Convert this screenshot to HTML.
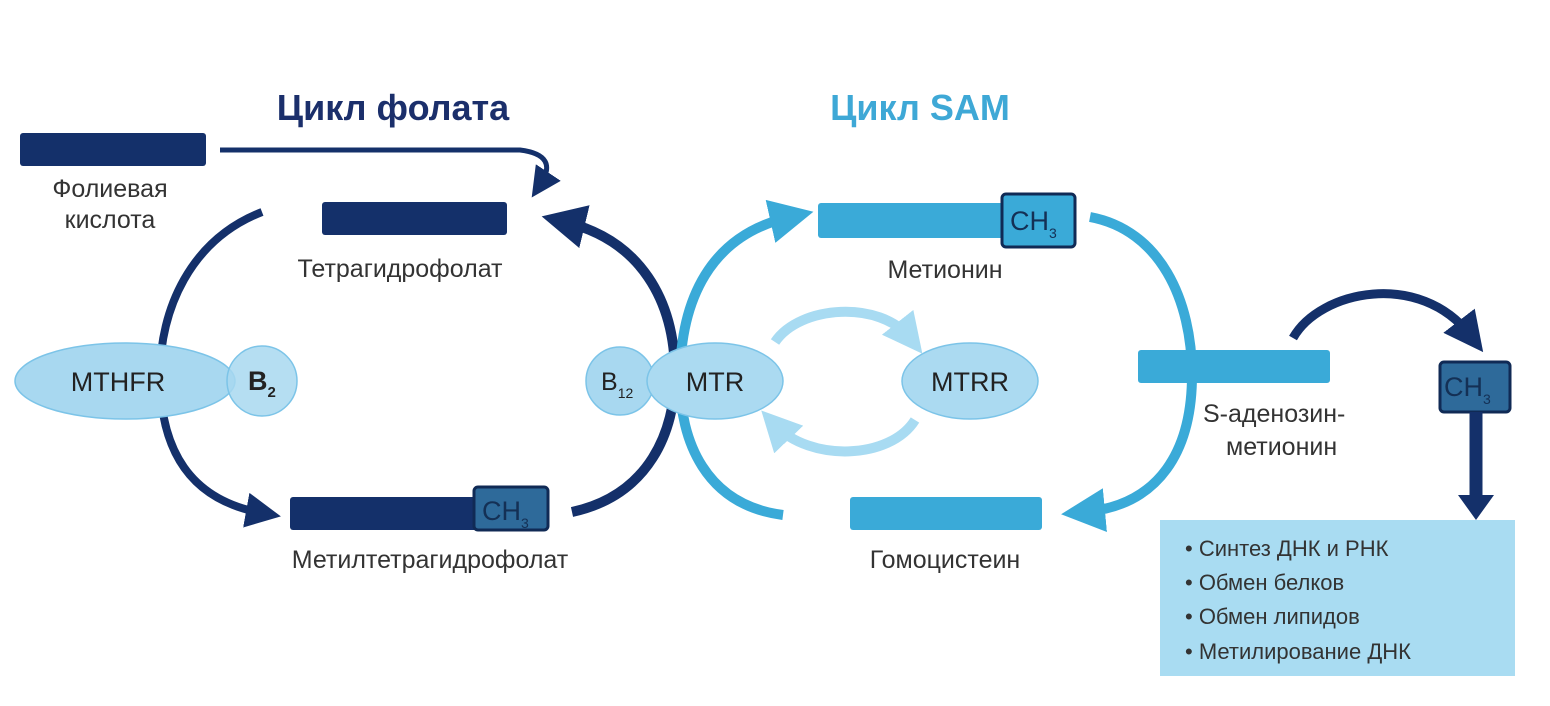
<!DOCTYPE html>
<html><head><meta charset="utf-8"><style>
html,body{margin:0;padding:0;background:#fff;}
svg{display:block;}
text{font-family:"Liberation Sans",sans-serif;}
</style></head><body>
<svg width="1550" height="706" viewBox="0 0 1550 706" xmlns="http://www.w3.org/2000/svg">
<defs>
<marker id="ad" markerWidth="4.4" markerHeight="4.4" refX="2" refY="2.2" orient="auto" markerUnits="strokeWidth"><path d="M0,0 L4.4,2.2 L0,4.4 z" fill="#14306a"/></marker>
<marker id="al" markerWidth="4.4" markerHeight="4.4" refX="2" refY="2.2" orient="auto" markerUnits="strokeWidth"><path d="M0,0 L4.4,2.2 L0,4.4 z" fill="#3aaad8"/></marker>
<marker id="ap" markerWidth="4" markerHeight="4" refX="2" refY="2" orient="auto" markerUnits="strokeWidth"><path d="M0,0 L4,2 L0,4 z" fill="#a8dbf2"/></marker>
<marker id="as" markerWidth="6" markerHeight="6" refX="3" refY="3" orient="auto" markerUnits="strokeWidth"><path d="M0,0 L6,3 L0,6 z" fill="#14306a"/></marker>
</defs>
<text x="393" y="120" font-size="36" fill="#1b2f6b" text-anchor="middle" font-weight="bold">Цикл фолата</text>
<text x="920" y="120" font-size="36" fill="#3ea8d6" text-anchor="middle" font-weight="bold">Цикл SAM</text>

<rect x="20" y="133" width="186" height="33" rx="3" fill="#14306a"/>
<path d="M220 150 L520 150 Q560 155 540 185" stroke="#14306a" stroke-width="5" fill="none" marker-end="url(#as)"/>
<text x="110" y="197" font-size="25" fill="#333" text-anchor="middle">Фолиевая</text>
<text x="110" y="228" font-size="25" fill="#333" text-anchor="middle">кислота</text>

<rect x="322" y="202" width="185" height="33" rx="3" fill="#14306a"/>
<text x="400" y="277" font-size="25" fill="#333" text-anchor="middle">Тетрагидрофолат</text>

<path d="M262 212 C190 240 160 310 160 375 C160 450 190 500 262 513" stroke="#14306a" stroke-width="8" fill="none" marker-end="url(#ad)"/>
<path d="M572 512 C650 495 675 430 675 375 C675 300 640 240 565 222" stroke="#14306a" stroke-width="10" fill="none" marker-end="url(#ad)"/>

<path d="M783 515 C705 505 680 440 680 380 C680 300 710 235 790 217" stroke="#3aaad8" stroke-width="10" fill="none" marker-end="url(#al)"/>
<path d="M1090 217 C1160 230 1192 300 1192 375 C1192 450 1160 505 1085 512" stroke="#3aaad8" stroke-width="10" fill="none" marker-end="url(#al)"/>

<ellipse cx="125" cy="381" rx="110" ry="38" fill="#a8d8f0" stroke="#7cc4e8" stroke-width="1.5"/>
<circle cx="262" cy="381" r="35" fill="#a8d8f0" stroke="#7cc4e8" stroke-width="1.5" fill-opacity="0.85"/>
<text x="118" y="391" font-size="27" fill="#222" text-anchor="middle">MTHFR</text>
<text x="248" y="390" font-size="27" fill="#222" font-weight="bold">B<tspan font-size="15" dy="7">2</tspan></text>

<rect x="290" y="497" width="190" height="33" rx="3" fill="#14306a"/>
<rect x="474" y="487" width="74" height="43" rx="4" fill="#2e6a9a" stroke="#102a55" stroke-width="3"/>
<text x="482" y="520" font-size="27" fill="#143055">CH<tspan font-size="14" dy="8">3</tspan></text>
<text x="430" y="568" font-size="25" fill="#333" text-anchor="middle">Метилтетрагидрофолат</text>

<circle cx="620" cy="381" r="34" fill="#a8d8f0" stroke="#7cc4e8" stroke-width="1.5"/>
<ellipse cx="715" cy="381" rx="68" ry="38" fill="#abdaf1" stroke="#7cc4e8" stroke-width="1.5"/>
<text x="601" y="390" font-size="25" fill="#222">B<tspan font-size="14" dy="8">12</tspan></text>
<text x="715" y="391" font-size="27" fill="#222" text-anchor="middle">MTR</text>

<ellipse cx="970" cy="381" rx="68" ry="38" fill="#abdaf1" stroke="#7cc4e8" stroke-width="1.5"/>
<text x="970" y="391" font-size="27" fill="#222" text-anchor="middle">MTRR</text>

<path d="M775 342 C800 305 880 300 910 338" stroke="#a8dbf2" stroke-width="10" fill="none" marker-end="url(#ap)"/>
<path d="M915 420 C890 460 810 462 775 425" stroke="#a8dbf2" stroke-width="10" fill="none" marker-end="url(#ap)"/>

<rect x="818" y="203" width="190" height="35" rx="3" fill="#3aaad8"/>
<rect x="1002" y="194" width="73" height="53" rx="4" fill="#3aaad8" stroke="#102a55" stroke-width="3"/>
<text x="1010" y="230" font-size="27" fill="#143055">CH<tspan font-size="14" dy="8">3</tspan></text>
<text x="945" y="278" font-size="25" fill="#333" text-anchor="middle">Метионин</text>

<rect x="1138" y="350" width="192" height="33" rx="3" fill="#3aaad8"/>
<text x="1203" y="422" font-size="25" fill="#333">S-аденозин-</text>
<text x="1226" y="455" font-size="25" fill="#333">метионин</text>

<rect x="850" y="497" width="192" height="33" rx="3" fill="#3aaad8"/>
<text x="945" y="568" font-size="25" fill="#333" text-anchor="middle">Гомоцистеин</text>

<path d="M1293 338 C1320 290 1420 270 1470 335" stroke="#14306a" stroke-width="9" fill="none" marker-end="url(#ad)"/>
<rect x="1440" y="362" width="70" height="50" rx="4" fill="#2e6a9a" stroke="#102a55" stroke-width="3"/>
<text x="1444" y="396" font-size="27" fill="#143055">CH<tspan font-size="14" dy="8">3</tspan></text>
<path d="M1476 412 L1476 497" stroke="#14306a" stroke-width="13" fill="none"/>
<path d="M1458 495 L1494 495 L1476 520 z" fill="#14306a"/>

<rect x="1160" y="520" width="355" height="156" fill="#a9dcf2"/>
<text font-size="22" fill="#333">
<tspan x="1185" y="556">• Синтез ДНК и РНК</tspan>
<tspan x="1185" y="590">• Обмен белков</tspan>
<tspan x="1185" y="624">• Обмен липидов</tspan>
<tspan x="1185" y="659">• Метилирование ДНК</tspan>
</text>
</svg>
</body></html>
